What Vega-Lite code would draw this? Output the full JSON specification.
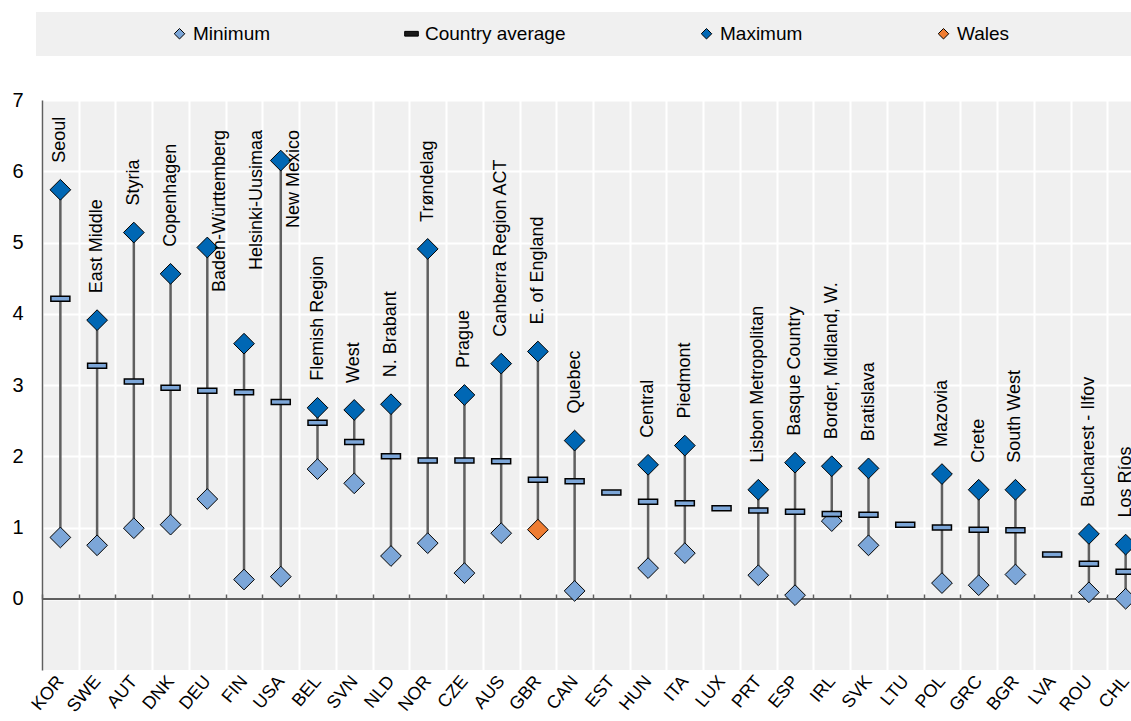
{
  "$schema": "https://vega.github.io/schema/vega-lite/v6.json",
  "autosize": {"type": "none"},
  "width": 1089,
  "height": 570,
  "padding": {"left": 42, "top": 100, "right": 0, "bottom": 51},
  "background": "white",
  "config": {
    "font": "Liberation Sans",
    "view": {"fill": "#f0f0f0", "stroke": null},
    "axis": {"labelColor": "#000", "labelFont": "Liberation Sans"}
  },
  "data": {
    "values": [
      {"country": "KOR", "series": "Maximum", "value": 5.74, "region": "Seoul"},
      {"country": "KOR", "series": "Country average", "value": 4.21},
      {"country": "KOR", "series": "Minimum", "value": 0.86},
      {"country": "SWE", "series": "Maximum", "value": 3.91, "region": "East Middle"},
      {"country": "SWE", "series": "Country average", "value": 3.27},
      {"country": "SWE", "series": "Minimum", "value": 0.75},
      {"country": "AUT", "series": "Maximum", "value": 5.14, "region": "Styria"},
      {"country": "AUT", "series": "Country average", "value": 3.05},
      {"country": "AUT", "series": "Minimum", "value": 0.99},
      {"country": "DNK", "series": "Maximum", "value": 4.56, "region": "Copenhagen"},
      {"country": "DNK", "series": "Country average", "value": 2.96},
      {"country": "DNK", "series": "Minimum", "value": 1.04},
      {"country": "DEU", "series": "Maximum", "value": 4.93, "region": "Baden-Württemberg"},
      {"country": "DEU", "series": "Country average", "value": 2.92},
      {"country": "DEU", "series": "Minimum", "value": 1.40},
      {"country": "FIN", "series": "Maximum", "value": 3.58, "region": "Helsinki-Uusimaa"},
      {"country": "FIN", "series": "Country average", "value": 2.90},
      {"country": "FIN", "series": "Minimum", "value": 0.27},
      {"country": "USA", "series": "Maximum", "value": 6.15, "region": "New Mexico"},
      {"country": "USA", "series": "Country average", "value": 2.76},
      {"country": "USA", "series": "Minimum", "value": 0.31},
      {"country": "BEL", "series": "Maximum", "value": 2.68, "region": "Flemish Region"},
      {"country": "BEL", "series": "Country average", "value": 2.47},
      {"country": "BEL", "series": "Minimum", "value": 1.82},
      {"country": "SVN", "series": "Maximum", "value": 2.65, "region": "West"},
      {"country": "SVN", "series": "Country average", "value": 2.20},
      {"country": "SVN", "series": "Minimum", "value": 1.62},
      {"country": "NLD", "series": "Maximum", "value": 2.73, "region": "N. Brabant"},
      {"country": "NLD", "series": "Country average", "value": 2.00},
      {"country": "NLD", "series": "Minimum", "value": 0.60},
      {"country": "NOR", "series": "Maximum", "value": 4.91, "region": "Trøndelag"},
      {"country": "NOR", "series": "Country average", "value": 1.94},
      {"country": "NOR", "series": "Minimum", "value": 0.78},
      {"country": "CZE", "series": "Maximum", "value": 2.86, "region": "Prague"},
      {"country": "CZE", "series": "Country average", "value": 1.94},
      {"country": "CZE", "series": "Minimum", "value": 0.36},
      {"country": "AUS", "series": "Maximum", "value": 3.30, "region": "Canberra Region ACT"},
      {"country": "AUS", "series": "Country average", "value": 1.93},
      {"country": "AUS", "series": "Minimum", "value": 0.92},
      {"country": "GBR", "series": "Maximum", "value": 3.47, "region": "E. of England"},
      {"country": "GBR", "series": "Country average", "value": 1.67},
      {"country": "GBR", "series": "Wales", "value": 0.97},
      {"country": "CAN", "series": "Maximum", "value": 2.22, "region": "Quebec"},
      {"country": "CAN", "series": "Country average", "value": 1.65},
      {"country": "CAN", "series": "Minimum", "value": 0.11},
      {"country": "EST", "series": "Country average", "value": 1.49},
      {"country": "HUN", "series": "Maximum", "value": 1.88, "region": "Central"},
      {"country": "HUN", "series": "Country average", "value": 1.36},
      {"country": "HUN", "series": "Minimum", "value": 0.43},
      {"country": "ITA", "series": "Maximum", "value": 2.15, "region": "Piedmont"},
      {"country": "ITA", "series": "Country average", "value": 1.34},
      {"country": "ITA", "series": "Minimum", "value": 0.64},
      {"country": "LUX", "series": "Country average", "value": 1.27},
      {"country": "PRT", "series": "Maximum", "value": 1.53, "region": "Lisbon Metropolitan"},
      {"country": "PRT", "series": "Country average", "value": 1.24},
      {"country": "PRT", "series": "Minimum", "value": 0.33},
      {"country": "ESP", "series": "Maximum", "value": 1.91, "region": "Basque Country"},
      {"country": "ESP", "series": "Country average", "value": 1.22},
      {"country": "ESP", "series": "Minimum", "value": 0.05},
      {"country": "IRL", "series": "Maximum", "value": 1.86, "region": "Border, Midland, W."},
      {"country": "IRL", "series": "Country average", "value": 1.19},
      {"country": "IRL", "series": "Minimum", "value": 1.09},
      {"country": "SVK", "series": "Maximum", "value": 1.83, "region": "Bratislava"},
      {"country": "SVK", "series": "Country average", "value": 1.18},
      {"country": "SVK", "series": "Minimum", "value": 0.75},
      {"country": "LTU", "series": "Country average", "value": 1.04},
      {"country": "POL", "series": "Maximum", "value": 1.75, "region": "Mazovia"},
      {"country": "POL", "series": "Country average", "value": 1.00},
      {"country": "POL", "series": "Minimum", "value": 0.22},
      {"country": "GRC", "series": "Maximum", "value": 1.53, "region": "Crete"},
      {"country": "GRC", "series": "Country average", "value": 0.97},
      {"country": "GRC", "series": "Minimum", "value": 0.19},
      {"country": "BGR", "series": "Maximum", "value": 1.53, "region": "South West"},
      {"country": "BGR", "series": "Country average", "value": 0.96},
      {"country": "BGR", "series": "Minimum", "value": 0.34},
      {"country": "LVA", "series": "Country average", "value": 0.62},
      {"country": "ROU", "series": "Maximum", "value": 0.91, "region": "Bucharest - Ilfov"},
      {"country": "ROU", "series": "Country average", "value": 0.49},
      {"country": "ROU", "series": "Minimum", "value": 0.09},
      {"country": "CHL", "series": "Maximum", "value": 0.76, "region": "Los Ríos"},
      {"country": "CHL", "series": "Country average", "value": 0.38},
      {"country": "CHL", "series": "Minimum", "value": 0.0}
    ]
  },
  "resolve": {"axis": {"x": "independent"}},
  "layer": [
    {
      "transform": [{"filter": "datum.series !== 'Country average'"}],
      "mark": {"type": "rule", "color": "#5f5f5f", "strokeWidth": 2.5},
      "encoding": {
        "x": {
          "field": "country", "type": "nominal",
          "scale": {"domain": ["KOR","SWE","AUT","DNK","DEU","FIN","USA","BEL","SVN","NLD","NOR","CZE","AUS","GBR","CAN","EST","HUN","ITA","LUX","PRT","ESP","IRL","SVK","LTU","POL","GRC","BGR","LVA","ROU","CHL"], "range": [0, 1102], "paddingInner": 0, "paddingOuter": 0},
          "axis": {"orient": "bottom", "title": null, "labelAngle": -50, "labelAlign": "right", "labelBaseline": "middle", "labelFontSize": 18, "labelPadding": 8, "ticks": false, "domain": false, "grid": true, "gridColor": "#ffffff", "gridWidth": 2, "tickBand": "extent"}
        },
        "y": {
          "aggregate": "min", "field": "value", "type": "quantitative", "title": null,
          "scale": {"domain": [-1, 7], "nice": false, "zero": false},
          "axis": {"values": [0,1,2,3,4,5,6,7], "format": "d", "grid": true, "gridColor": "#ffffff", "gridWidth": 2, "domain": true, "domainColor": "#5f5f5f", "domainWidth": 1.5, "ticks": false, "labelFontSize": 20, "labelPadding": 19, "labelBaseline": "middle"}
        },
        "y2": {"aggregate": "max", "field": "value"}
      }
    },
    {
      "mark": {"type": "rule", "color": "#5f5f5f", "strokeWidth": 1.5},
      "encoding": {"y": {"datum": 0, "type": "quantitative", "title": null}}
    },
    {
      "transform": [{"filter": "datum.series !== 'Country average'"}],
      "mark": {"type": "point", "filled": true, "size": 430, "stroke": "#000000", "strokeWidth": 1, "opacity": 1},
      "encoding": {
        "x": {"field": "country", "type": "nominal", "axis": null},
        "y": {"field": "value", "type": "quantitative", "title": null},
        "color": {
          "field": "series", "type": "nominal",
          "scale": {"domain": ["Minimum", "Country average", "Maximum", "Wales", " "], "range": ["#7ca6d8", "#1a1a1a", "#0067b4", "#ef7d32", "#f0f0f0"]},
          "legend": {"orient": "none", "legendX": -6, "legendY": -88, "direction": "horizontal", "columns": 5, "columnPadding": 131, "title": " ", "titleOrient": "left", "titlePadding": 122, "titleFontSize": 19, "fillColor": "#f0f0f0", "padding": 12, "labelFontSize": 19, "labelColor": "#000000", "labelOffset": 4, "symbolSize": 110, "symbolStrokeColor": "#000000", "symbolStrokeWidth": 1, "labelLimit": 600}
        },
        "shape": {
          "field": "series", "type": "nominal",
          "scale": {"domain": ["Minimum", "Country average", "Maximum", "Wales", " "], "range": ["diamond", "M-1.3,-0.45H1.3V0.45H-1.3Z", "diamond", "diamond", "M0,0"]},
          "legend": {"orient": "none", "legendX": -6, "legendY": -88, "direction": "horizontal", "columns": 5, "columnPadding": 131, "title": " ", "titleOrient": "left", "titlePadding": 122, "titleFontSize": 19, "fillColor": "#f0f0f0", "padding": 12, "labelFontSize": 19, "labelColor": "#000000", "labelOffset": 4, "symbolSize": 110, "symbolStrokeColor": "#000000", "symbolStrokeWidth": 1, "labelLimit": 600}
        }
      }
    },
    {
      "transform": [{"filter": "datum.series === 'Country average'"}],
      "mark": {"type": "tick", "size": 19, "thickness": 5, "fill": "#7ca6d8", "stroke": "#000000", "strokeWidth": 1.5, "opacity": 1},
      "encoding": {
        "x": {"field": "country", "type": "nominal", "axis": {"orient": "top", "offset": -499, "title": null, "labels": false, "domain": false, "grid": false, "ticks": true, "tickSize": 5, "tickColor": "#5f5f5f", "tickWidth": 1.5, "tickBand": "extent"}},
        "y": {"field": "value", "type": "quantitative", "title": null}
      }
    },
    {
      "transform": [{"filter": {"and": [{"field": "series", "equal": "Maximum"}, {"not": {"field": "country", "oneOf": ["DEU", "FIN", "USA"]}}]}}],
      "mark": {"type": "text", "angle": 270, "align": "left", "baseline": "middle", "dx": 27, "fontSize": 18, "color": "#000000"},
      "encoding": {
        "x": {"field": "country", "type": "nominal", "axis": null},
        "y": {"field": "value", "type": "quantitative", "title": null},
        "text": {"field": "region"}
      }
    },
    {
      "transform": [{"filter": {"and": [{"field": "series", "equal": "Maximum"}, {"field": "country", "oneOf": ["DEU", "FIN", "USA"]}]}}],
      "mark": {"type": "text", "angle": 270, "align": "right", "baseline": "middle", "dy": 13, "fontSize": 18, "color": "#000000"},
      "encoding": {
        "x": {"field": "country", "type": "nominal", "axis": null},
        "y": {"datum": 6.58, "type": "quantitative", "title": null},
        "text": {"field": "region"}
      }
    }
  ]
}
